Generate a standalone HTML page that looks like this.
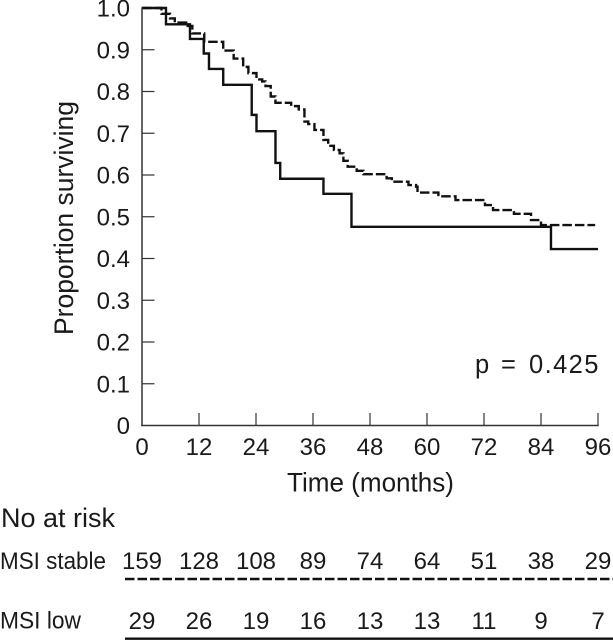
<!DOCTYPE html>
<html>
<head>
<meta charset="utf-8">
<title>Survival chart</title>
<style>
html,body{margin:0;padding:0;background:#fff;width:613px;height:640px;overflow:hidden}
svg{display:block}
text{font-family:"Liberation Sans",sans-serif;font-size:24px;fill:#1a1a1a}
text.title{font-size:26.5px}
text.pval{font-size:25.5px}
</style>
</head>
<body>
<svg id="chart" width="613" height="640" viewBox="0 0 613 640" xmlns="http://www.w3.org/2000/svg">
  <text class="title" transform="translate(73 335) rotate(-90)" textLength="234" lengthAdjust="spacingAndGlyphs">Proportion surviving</text>
  <text class="title" x="287" y="491.5" textLength="167" lengthAdjust="spacingAndGlyphs">Time (months)</text>
  <text class="pval" y="373"><tspan x="475">p</tspan> <tspan x="501">=</tspan> <tspan x="529" letter-spacing="1.4">0.425</tspan></text>
  <text class="title" x="1" y="527" textLength="114" lengthAdjust="spacingAndGlyphs">No at risk</text>
  <text x="0" y="569" textLength="106" lengthAdjust="spacingAndGlyphs">MSI stable</text>
  <text x="0" y="628.5" textLength="81" lengthAdjust="spacingAndGlyphs">MSI low</text>
  <line x1="125" y1="579" x2="613" y2="579" stroke="#111" stroke-width="2.4" stroke-dasharray="9.5 3"/>
  <line x1="125" y1="638.7" x2="613" y2="638.7" stroke="#111" stroke-width="2.4"/>
</svg>
<script>
var xTicks = [0, 12, 24, 36, 48, 60, 72, 84, 96];
var yTicks = [0, 0.1, 0.2, 0.3, 0.4, 0.5, 0.6, 0.7, 0.8, 0.9, 1.0];
var yTickLabels = ['0', '0.1', '0.2', '0.3', '0.4', '0.5', '0.6', '0.7', '0.8', '0.9', '1.0'];

var lowTimes = [0, 5.05, 10.1, 13, 14.1, 17.1, 23.1, 24.1, 28.1, 29.1, 38.2, 44.1, 86.1];
var lowSurvival = [1, 0.961, 0.926, 0.891, 0.854, 0.816, 0.744, 0.705, 0.629, 0.591, 0.555, 0.476, 0.4225];
var lowEnd = 96;

var stableTimes = [0, 4.1, 5.9, 6.9, 9.3, 10.6, 13.1, 17.1, 19.3, 21.3, 22.4, 24.1, 25.3, 26, 27.1, 28.1, 31.4, 33, 34.2, 35, 36.3, 38.2, 39.2, 40.4, 41.6, 42.4, 43.3, 45.2, 46.6, 51.5, 52.6, 56.1, 57.7, 58, 62.4, 66, 72.2, 73.9, 78.3, 81.9, 84];
var stableSurvival = [1, 0.986, 0.975, 0.965, 0.957, 0.939, 0.919, 0.898, 0.879, 0.859, 0.844, 0.829, 0.824, 0.813, 0.788, 0.773, 0.765, 0.757, 0.728, 0.722, 0.708, 0.684, 0.67, 0.66, 0.652, 0.634, 0.62, 0.61, 0.602, 0.592, 0.584, 0.576, 0.572, 0.558, 0.549, 0.54, 0.528, 0.516, 0.507, 0.492, 0.48];
var stableEnd = 95.4;

var riskStable = [159, 128, 108, 89, 74, 64, 51, 38, 29];
var riskLow = [29, 26, 19, 16, 13, 13, 11, 9, 7];

var NS = 'http://www.w3.org/2000/svg';
var svg = document.getElementById('chart');
function xScale(t) { return 142 + t * 4.75; }
function yScale(s) { return 425.5 - s * 417.5; }
function make(tag, attrs, parent) {
  var el = document.createElementNS(NS, tag);
  for (var k in attrs) el.setAttribute(k, attrs[k]);
  (parent || svg).appendChild(el);
  return el;
}
function stepPath(times, values, end) {
  var d = 'M' + xScale(times[0]) + ' ' + yScale(values[0]);
  for (var i = 1; i < times.length; i++) {
    d += 'H' + xScale(times[i]) + 'V' + yScale(values[i]);
  }
  return d + 'H' + xScale(end);
}

var stableLine = make('path', {d: stepPath(stableTimes, stableSurvival, stableEnd), fill: 'none', stroke: '#111', 'stroke-width': 2.4, 'stroke-dasharray': '9.5 3'});



var lowLine = make('path', {d: stepPath(lowTimes, lowSurvival, lowEnd), fill: 'none', stroke: '#111', 'stroke-width': 2.4});



var yAxis = make('line', {x1: xScale(0), y1: yScale(1), x2: xScale(0), y2: yScale(0), stroke: '#333', 'stroke-width': 1.5, 'stroke-linecap': 'square'});



var xAxis = make('line', {x1: xScale(0), y1: yScale(0), x2: xScale(96), y2: yScale(0), stroke: '#333', 'stroke-width': 1.5, 'stroke-linecap': 'square'});



xTicks.forEach(function (t) {
  var x = xScale(t);
  if (t > 0) {
    var tick = make('line', {x1: x, y1: yScale(0), x2: x, y2: yScale(0) - 12.5, stroke: '#333', 'stroke-width': 1.2});
    
    
  }
  var label = make('text', {x: x, y: 455, 'text-anchor': 'middle'});
  label.textContent = String(t);
  
  
});

yTicks.forEach(function (s, i) {
  var y = yScale(s);
  if (s > 0 && s < 1) {
    var tick = make('line', {x1: xScale(0), y1: y, x2: xScale(0) + 12.5, y2: y, stroke: '#333', 'stroke-width': 1.2});
    
    
  }
  var label = make('text', {x: 130, y: y + 8.5, 'text-anchor': 'end'});
  label.textContent = yTickLabels[i];
  
  
});

riskStable.forEach(function (n, i) {
  var label = make('text', {x: xScale(xTicks[i]), y: 569, 'text-anchor': 'middle'});
  label.textContent = String(n);
  
  
});

riskLow.forEach(function (n, i) {
  var label = make('text', {x: xScale(xTicks[i]), y: 629, 'text-anchor': 'middle'});
  label.textContent = String(n);
  
  
});
</script>
</body>
</html>
